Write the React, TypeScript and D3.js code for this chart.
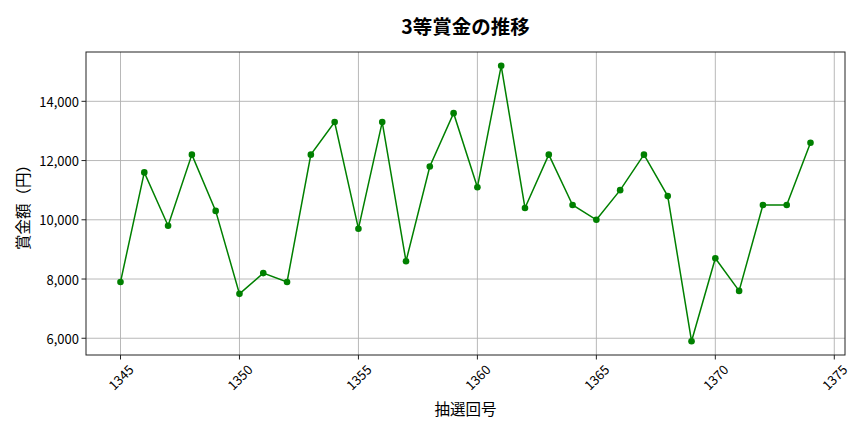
import React from "react";
import * as d3 from "d3";

const draws: number[] = [1345,1346,1347,1348,1349,1350,1351,1352,1353,1354,1355,1356,1357,1358,1359,1360,1361,1362,1363,1364,1365,1366,1367,1368,1369,1370,1371,1372,1373,1374];
const prizes: number[] = [7900,11600,9800,12200,10300,7500,8200,7900,12200,13300,9700,13300,8600,11800,13600,11100,15200,10400,12200,10500,10000,11000,12200,10800,5900,8700,7600,10500,10500,12600];
const xTicks: number[] = [1345,1350,1355,1360,1365,1370,1375];
const yTicks: number[] = [6000,8000,10000,12000,14000];

const title = "3等賞金の推移";
const xLabel = "抽選回号";
const yLabel = "賞金額（円）";

const W = 864, H = 432;
const M = { left: 86, right: 845, top: 52, bottom: 355 };
const FONT = "'Noto Sans CJK JP', 'Noto Sans', sans-serif";

export default function App() {
  const xMin = d3.min(draws)!, xMax = d3.max(draws)!;
  const yMin = d3.min(prizes)!, yMax = d3.max(prizes)!;
  const xPad = (xMax - xMin) * 0.05, yPad = (yMax - yMin) * 0.05;
  const x = d3.scaleLinear().domain([xMin - xPad, xMax + xPad]).range([M.left, M.right]);
  const y = d3.scaleLinear().domain([yMin - yPad, yMax + yPad]).range([M.bottom, M.top]);
  const pts = draws.map((d, i) => [d, prizes[i]] as [number, number]);
  const line = d3.line<[number, number]>().x(d => x(d[0])).y(d => y(d[1]));
  const fmt = d3.format(",");
  const cx = (M.left + M.right) / 2, cy = (M.top + M.bottom) / 2;

  return (
    <svg width={W} height={H} style={{ position: "absolute", left: 0, top: 0, background: "#fff" }} fontFamily={FONT}>
      <rect x={0} y={0} width={W} height={H} fill="#fff" />
      {xTicks.map(t => (
        <line key={"gx" + t} x1={x(t)} x2={x(t)} y1={M.top} y2={M.bottom} stroke="#b0b0b0" strokeWidth={0.9} />
      ))}
      {yTicks.map(t => (
        <line key={"gy" + t} x1={M.left} x2={M.right} y1={y(t)} y2={y(t)} stroke="#b0b0b0" strokeWidth={0.9} />
      ))}
      <path d={line(pts)!} fill="none" stroke="#008000" strokeWidth={1.5} />
      {pts.map((p, i) => (
        <circle key={i} cx={x(p[0])} cy={y(p[1])} r={3.3} fill="#008000" />
      ))}
      <rect x={M.left} y={M.top} width={M.right - M.left} height={M.bottom - M.top} fill="none" stroke="#222" strokeWidth={1} />
      {xTicks.map(t => (
        <g key={"tx" + t}>
          <line x1={x(t)} x2={x(t)} y1={M.bottom} y2={M.bottom + 4.5} stroke="#222" strokeWidth={1} />
          <text transform={`translate(${x(t)},${377}) rotate(-45)`} textAnchor="middle" dominantBaseline="central" fontSize={13} fill="#000">{t}</text>
        </g>
      ))}
      {yTicks.map(t => (
        <g key={"ty" + t}>
          <line x1={M.left - 4.5} x2={M.left} y1={y(t)} y2={y(t)} stroke="#222" strokeWidth={1} />
          <text x={79} y={y(t)} textAnchor="end" dominantBaseline="central" fontSize={13} fill="#000">{fmt(t)}</text>
        </g>
      ))}
      <text x={cx} y={25} textAnchor="middle" dominantBaseline="central" fontSize={19.5} fontWeight={700} fill="#000">{title}</text>
      <text x={cx} y={408} textAnchor="middle" dominantBaseline="central" fontSize={15.5} fill="#000">{xLabel}</text>
      <text transform={`translate(22,${cy}) rotate(-90)`} textAnchor="middle" dominantBaseline="central" fontSize={15.5} fill="#000">{yLabel}</text>
    </svg>
  );
}
